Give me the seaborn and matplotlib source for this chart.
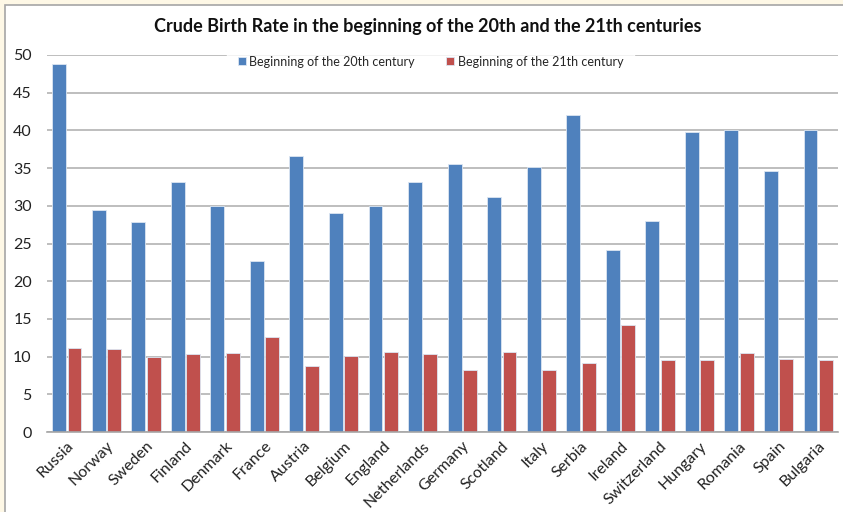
import pandas as pd
import matplotlib.pyplot as plt
import seaborn as sns
from matplotlib.patches import Rectangle

# Chart values
countries = ["Russia", "Norway", "Sweden", "Finland", "Denmark", "France", "Austria",
             "Belgium", "England", "Netherlands", "Germany", "Scotland", "Italy", "Serbia",
             "Ireland", "Switzerland", "Hungary", "Romania", "Spain", "Bulgaria"]
rate_20th = [48.8, 29.4, 27.8, 33.1, 30.0, 22.7, 36.6, 29.0, 30.0, 33.1,
             35.5, 31.2, 35.2, 42.1, 24.1, 28.0, 39.8, 40.0, 34.6, 40.0]
rate_21st = [11.1, 11.0, 10.0, 10.4, 10.5, 12.6, 8.7, 10.1, 10.6, 10.4,
             8.2, 10.6, 8.2, 9.2, 14.2, 9.6, 9.5, 10.5, 9.7, 9.5]
series_names = ["Beginning of the 20th century", "Beginning of the 21th century"]
yticks = [0, 5, 10, 15, 20, 25, 30, 35, 40, 45, 50]

df = pd.concat([
    pd.DataFrame({"country": countries, "rate": rate_20th, "period": series_names[0]}),
    pd.DataFrame({"country": countries, "rate": rate_21st, "period": series_names[1]}),
])

sns.set_style("white")
plt.rcParams["font.family"] = ["Lato", "DejaVu Sans"]

fig = plt.figure(figsize=(8.43, 5.12), dpi=100, facecolor="#FEF8E6")
# white chart box with grey border, behind the axes
fig.patches.append(Rectangle((5 / 843, -0.01), 1.0, 1 - 5 / 512 + 0.01, transform=fig.transFigure,
                             facecolor="white", edgecolor="#A6A6A6", linewidth=1.2, zorder=-10))

ax = fig.add_axes([47 / 843, 1 - 432 / 512, (838 - 47) / 843, (432 - 55) / 512])
ax.set_facecolor("white")
sns.barplot(data=df, x="country", y="rate", hue="period", ax=ax,
            palette=["#4F81BD", "#C0504D"], width=0.78, gap=0.1,
            edgecolor="#DCE6F2", linewidth=0.6, saturation=1)

ax.set_ylim(0, 50)
ax.set_xlim(-0.5, len(countries) - 0.5)
ax.set_yticks(yticks)
ax.yaxis.grid(True, color="#B3B3B3", linewidth=1.2)
ax.set_axisbelow(True)
for side in ["top", "right", "left"]:
    ax.spines[side].set_visible(False)
ax.spines["bottom"].set_color("#A6A6A6")
ax.spines["bottom"].set_linewidth(1.2)
ax.tick_params(axis="both", length=0, labelsize=11.5, colors="#222222")
ax.tick_params(axis="y", pad=11)
ax.tick_params(axis="x", pad=5)
plt.setp(ax.get_xticklabels(), rotation=45, ha="right", rotation_mode="anchor")
ax.set_xlabel("")
ax.set_ylabel("")

leg = ax.legend(loc="upper center", bbox_to_anchor=(0.485, 1.025), ncol=2, frameon=True,
                fontsize=9, handlelength=0.6, handleheight=0.6, handletextpad=0.3,
                columnspacing=2.5, borderpad=0.3)
leg.get_frame().set_facecolor("white")
leg.get_frame().set_edgecolor("white")
leg.get_frame().set_boxstyle("square", pad=0.6)

fig.text(0.508, 0.948, "Crude Birth Rate in the beginning of the 20th and the 21th centuries",
         ha="center", va="center", fontsize=13, fontweight="bold", color="#111111")

fig.savefig("out.png", dpi=100, facecolor=fig.get_facecolor())
